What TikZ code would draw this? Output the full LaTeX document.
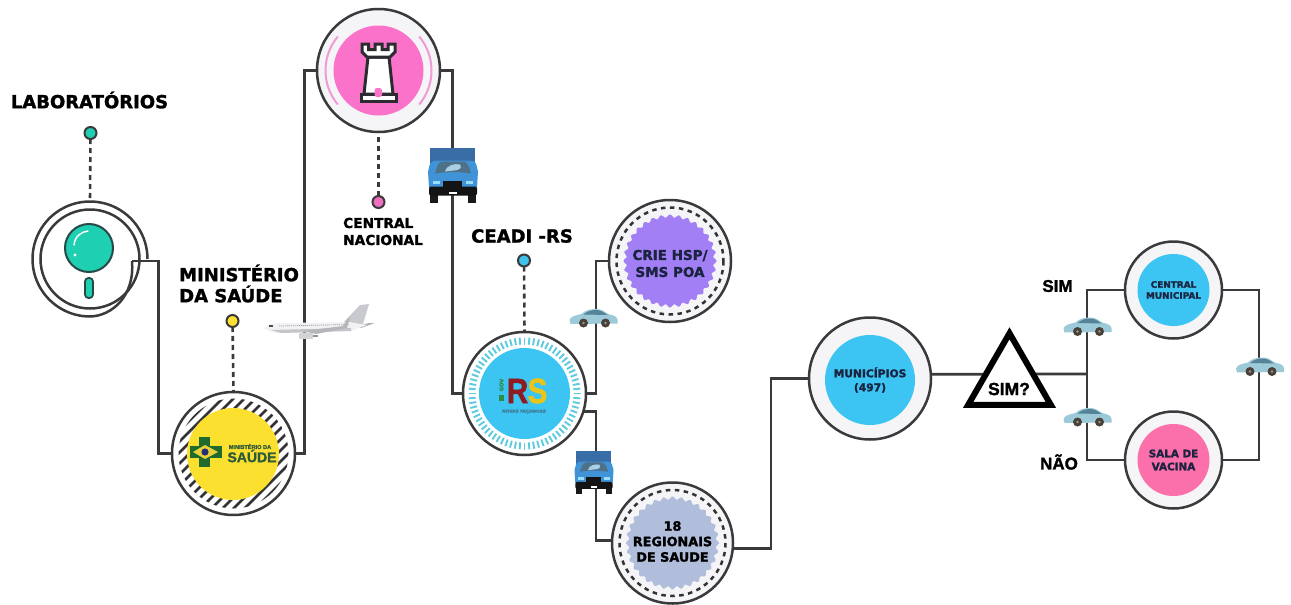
\documentclass[tikz,border=0pt]{standalone}
\usepackage{fontspec}
\setmainfont{DejaVu Sans}[BoldFeatures={FakeBold=1.6}]
\newfontfamily\libfont{Liberation Sans}[BoldFeatures={FakeBold=1.6}]
\usetikzlibrary{shapes.geometric,calc}
\pgfdeclarelayer{bg}
\pgfsetlayers{bg,main}
\newcommand{\defhex}[1]{\definecolor{HTML#1}{HTML}{#1}}
\defhex{558397}\defhex{4A4038}\defhex{8C9A9C}\defhex{396DA6}\defhex{3F93D6}
\defhex{4F7188}\defhex{A9CFE4}\defhex{141414}\defhex{C9CACF}\defhex{B0B2B6}\defhex{F2F2F4}
\defhex{C4C5C9}\defhex{9A9CA0}\defhex{B4B6BA}\defhex{D2D3D6}\defhex{8E9094}\defhex{274A48}
\defhex{333335}\defhex{E9D13A}\defhex{27306E}\defhex{2F5B3B}\defhex{F09AD6}\defhex{2C2C30}
\defhex{EE6FBE}\defhex{3EC2EC}\defhex{5CCADF}\defhex{8F1B22}\defhex{E9C41A}\defhex{2E8B45}
\defhex{3E7E9A}
\definecolor{ringc}{HTML}{3A3A3C}
\definecolor{navyt}{HTML}{1A2340}
\definecolor{tealc}{HTML}{1FCFB2}
\definecolor{pinkc}{HTML}{FB72CB}
\definecolor{cyanc}{HTML}{3CC5F2}
\definecolor{purpc}{HTML}{A27FF5}
\definecolor{bluegr}{HTML}{B0BEDC}
\definecolor{rosec}{HTML}{FB6FAA}
\definecolor{yelc}{HTML}{FBE02F}
\definecolor{ringbg}{HTML}{F5F5F7}
\definecolor{msgreen}{HTML}{1F6B2E}
\definecolor{carc}{HTML}{9CCAD8}
\newcommand{\fsz}[2]{\fontsize{#1}{#2}\selectfont}
\tikzset{
  ringnode/.style={circle,draw=ringc,line width=2.5pt,fill=#1,inner sep=0pt,outer sep=0pt},
  disc/.style={circle,fill=#1,inner sep=0pt,text=navyt,align=center},
  pindot/.style={circle,draw=ringc,line width=2pt,fill=#1,minimum size=12pt,inner sep=0pt,outer sep=0pt},
  conn/.style={draw=ringc,line width=2.8pt,line join=miter},
  thinconn/.style={draw=ringc,line width=2.2pt,line join=miter},
  dashconn/.style={draw=ringc,line width=2.6pt,dash pattern=on 5pt off 4pt},
  biglabel/.style={font=\bfseries\fsz{18}{21},text=black,inner sep=0pt,align=left},
  vehiclelabel/.style={font=\libfont\bfseries\fsz{17}{20},text=black,inner sep=0pt},
  carpic/.pic={
    \fill[carc] (-24,2) .. controls (-23,-2) and (-16,-3) .. (-12,-4)
      .. controls (-8,-8) and (-3,-9) .. (3,-9)
      .. controls (9,-9) and (12,-5) .. (16,-3.5)
      .. controls (20,-3) and (24,-1) .. (24,2)
      -- (24,5.5) -- (-23,6) -- cycle;
    \fill[HTML558397] (-10,-3.5) .. controls (-6,-7) and (-2,-8) .. (3,-8)
      .. controls (7,-8) and (10,-6) .. (14,-3) -- cycle;
    \fill[HTML4A4038] (-10,5) circle (4.5);
    \fill[HTML4A4038] (12,5) circle (4.5);
    \fill[HTML8C9A9C] (-10,5) circle (1.3);
    \fill[HTML8C9A9C] (12,5) circle (1.3);
  },
  truckpic/.pic={
    \fill[HTML396DA6] (-23,-27) rectangle (22,-5);
    \fill[black!90] (-23,18) rectangle (-15,28);
    \fill[black!90] (15,18) rectangle (23,28);
    \fill[HTML3F93D6] (-24,-7) .. controls (-23,-14) and (-18,-14) .. (-16,-14)
       -- (16,-14) .. controls (19,-14) and (23,-14) .. (24,-7) -- (25,-3) -- (24,13) -- (-24,13) -- (-25,-3) -- cycle;
    \fill[HTML4F7188] (-18,-1) .. controls (-15,-13) and (-12,-13) .. (-9,-13) -- (9,-13)
       .. controls (12,-13) and (15,-13) .. (18,-1) .. controls (5,-3) and (-5,-3) .. (-18,-1) -- cycle;
    \fill[HTMLA9CFE4] (-8,-3) .. controls (-6,-10) and (2,-11) .. (7,-10) .. controls (10,-6) and (5,-4) .. (1,-4) -- cycle;
    \fill[white!60!cyan] (-20,6) rectangle (-13,9);
    \fill[white!60!cyan] (13,6) rectangle (20,9);
    \fill[HTML141414] (-10,6) rectangle (9,13);
    \fill[HTML141414,rounded corners=2pt] (-24,12) rectangle (24,21);
    \fill[white] (-4,17) rectangle (4,19.5);
  },
  planepic/.pic={
    \fill[HTMLC9CACF] (22,-2) -- (39,-20) -- (48,-21) -- (42,-1) -- cycle;
    \fill[HTMLB0B2B6] (32,2) -- (48,-2) -- (54,-2) -- (40,3) -- cycle;
    \fill[HTMLF2F2F4] (-57,3) .. controls (-53,-1) and (-46,-2) .. (-40,-2) -- (28,-3) -- (46,0) -- (30,6) -- (-40,8) .. controls (-48,8) and (-54,6) .. (-57,3) -- cycle;
    \fill[HTMLC4C5C9] (-50,5) -- (30,3) -- (30,6) -- (-40,8) -- cycle;
    \draw[HTML9A9CA0,line width=.7pt,dash pattern=on 1.2pt off .8pt] (-42,1) -- (28,-0.5);
    \fill[black!70] (-52,0) rectangle (-48,1.5);
    \fill[HTMLB4B6BA] (-18,6) -- (22,1) -- (27,-7) -- (29,-7) -- (26,3) -- (-5,9) -- cycle;
    \fill[HTMLD2D3D6] (-22,8) rectangle (-8,14);
    \fill[HTML8E9094] (-8,10) rectangle (-3,12);
  }
}
\begin{document}
\begin{tikzpicture}[x=1pt,y=-1pt]
\useasboundingbox (0,0) rectangle (1291,605);
\begin{pgfonlayer}{bg}
\fill[white] (0,0) rectangle (1291,605);
\end{pgfonlayer}

% ---------- Laboratorios
\node[biglabel] (tlab) at (89.5,100) {LABORATÓRIOS};
\node[pindot=tealc] (dlab) at (90.5,133) {};
\node[circle,minimum size=114pt,inner sep=0pt,outer sep=0pt] (lab) at (90,259) {};
\coordinate (labj) at (132,261);
\draw[ringc,line width=2.5pt] plot[domain=0:-270,samples=80] ({90+57.5*cos(\x)},{259+57.5*sin(\x)})
   .. controls (112,316) and (135,296) .. (labj);
\draw[ringc,line width=2.5pt] (90,259) circle (49.5);
\node[circle,draw=HTML274A48,line width=2pt,fill=tealc,minimum size=48pt,inner sep=0pt] (lens) at (89,248) {};
\draw[white,line width=1.4pt,line cap=round] (74,245) .. controls (75,236) and (81,232) .. (88,231);
\fill[white] (75,255) circle (1.6);
\draw[HTML274A48,line width=1.8pt,fill=tealc,rounded corners=3.5pt] (85,278) rectangle (93,298);

% ---------- Ministerio
\node[biglabel,anchor=west] (tms) at (179,283.5) {MINISTÉRIO\\DA SAÚDE};
\node[pindot=yelc] (dms) at (232.5,321) {};
\node[ringnode=white,minimum size=123pt] (ms) at (233.5,453.5) {};
\begin{scope}
 \clip (ms) circle (55);
 \foreach \d in {-132,-121,...,132}
   \draw[HTML333335,line width=2.5pt] ($(ms)+(\d-80,80)$) -- ($(ms)+(\d+80,-80)$);
\end{scope}
\node[disc=yelc,minimum size=92pt] (msd) at (233,454) {};
\fill[msgreen] (199,437) rectangle (210,467);
\fill[msgreen] (190,446) rectangle (222,458);
\fill[HTMLE9D13A] (193,452) -- (205,445) -- (218,452) -- (205,459) -- cycle;
\fill[HTML27306E] (205,452) circle (3.6);
\node[inner sep=0pt,text=HTML2F5B3B,font=\libfont\bfseries\fsz{5.6}{6}] (msl1) at (250,446.5) {MINISTÉRIO DA};
\node[inner sep=0pt,text=HTML2F5B3B,font=\libfont\bfseries\fsz{14}{14}] (msl2) at (252,456) {SAÚDE};

% ---------- Central nacional
\node[ringnode=ringbg,minimum size=123pt] (cn) at (378.5,70.5) {};
\draw[HTMLF09AD6,line width=2pt] plot[domain=140:220,samples=30] ({378.5+53*cos(\x)},{70.5+53*sin(\x)});
\draw[HTMLF09AD6,line width=2pt] plot[domain=-40:40,samples=30] ({378.5+53*cos(\x)},{70.5+53*sin(\x)});
\node[disc=pinkc,minimum size=90pt] (cnd) at (378.5,70.5) {};
\draw[HTML2C2C30,line width=3pt,fill=white,line join=miter]
  (368,57) -- (389,57) -- (393,94) -- (364,94) -- cycle;
\draw[HTML2C2C30,line width=3pt,fill=white,line join=miter]
  (362,44) -- (368.5,44) -- (368.5,49.5) -- (375,49.5) -- (375,44) -- (382,44) -- (382,49.5) -- (388,49.5) -- (388,44) -- (395,44) -- (395,52) -- (390,57) -- (367,57) -- (362,52) -- cycle;
\draw[HTML2C2C30,line width=3pt,fill=white] (361,94) rectangle (396,101.5);
\fill[pinkc,rounded corners=2.5pt] (374.5,88) rectangle (382,97);
\node[pindot=HTMLEE6FBE] (dcn) at (378.5,202) {};
\node[biglabel,anchor=west,font=\bfseries\fsz{13.7}{17}] (tcn) at (343,231.5) {CENTRAL\\NACIONAL};

% ---------- CEADI
\node[biglabel] (trs) at (522,236) {CEADI -RS};
\node[pindot=HTML3EC2EC] (drs) at (524,260.5) {};
\node[ringnode=white,minimum size=123pt] (rs) at (524.5,393.5) {};
\foreach \a in {0,5,...,355}
  \draw[HTML5CCADF,line width=1.9pt] ({524.5+49*cos(\a)},{393.5+49*sin(\a)}) -- ({524.5+56*cos(\a)},{393.5+56*sin(\a)});
\node[disc=cyanc,minimum size=91pt] (rsd) at (524.5,393.5) {};
\node[inner sep=0pt,text=HTML8F1B22,font=\libfont\bfseries\fsz{35}{35},xscale=.85] (rsR) at (517.5,391) {R};
\node[inner sep=0pt,text=HTMLE9C41A,font=\libfont\bfseries\fsz{35}{35},xscale=.85] (rsS) at (537.5,391) {S};
\node[inner sep=0pt,rotate=90,text=HTML2E8B45,font=\bfseries\fsz{5.2}{6}] (rsG) at (501.5,385) {GOV};
\fill[HTML2E8B45] (499,395) rectangle (504,401);
\node[inner sep=0pt,text=HTML3E7E9A,font=\bfseries\fsz{4.3}{5}] (rsN) at (524,411.5) {NOVAS FAÇANHAS};

% ---------- CRIE
\node[ringnode=ringbg,minimum size=122pt] (crie) at (670,261) {};
\draw[HTML333335,line width=2.5pt,dash pattern=on 4.5pt off 4.5pt] (crie) circle (53.5);
\fill[purpc] plot[domain=0:360,samples=400] ({670+(45+1.5*cos(32*\x))*cos(\x)},{261+(45+1.5*cos(32*\x))*sin(\x)}) -- cycle;
\node[inner sep=0pt,align=center,text=navyt,font=\bfseries\fsz{13.5}{17}] (tcrie) at (670,263.5) {CRIE HSP/\\SMS POA};

% ---------- Regionais
\node[ringnode=ringbg,minimum size=121pt] (reg) at (672.5,543) {};
\draw[HTML333335,line width=2.5pt,dash pattern=on 4.5pt off 4.5pt] (reg) circle (53);
\fill[bluegr] plot[domain=0:360,samples=400] ({672.5+(45+1.5*cos(32*\x))*cos(\x)},{543+(45+1.5*cos(32*\x))*sin(\x)}) -- cycle;
\node[inner sep=0pt,align=center,text=black,font=\bfseries\fsz{12.8}{15.5}] (treg) at (672.5,541.5) {18\\REGIONAIS\\DE SAUDE};

% ---------- Municipios
\node[ringnode=ringbg,minimum size=122pt] (mun) at (870,378.5) {};
\node[disc=cyanc,minimum size=90pt,font=\bfseries\fsz{10.7}{14}] (mund) at (870,380) {MUNICÍPIOS\\(497)};

% ---------- Triangle
\node[regular polygon,regular polygon sides=3,draw=black,fill=white,line width=6pt,minimum size=95.4pt,inner sep=0pt,outer sep=0pt,line join=miter] (tri) at (1009.5,381) {};
\node[inner sep=0pt,text=black,font=\libfont\bfseries\fsz{17.5}{18}] (tsim) at (1009,389) {SIM?};

% ---------- End nodes
\node[ringnode=ringbg,minimum size=97pt] (cm) at (1173.5,290) {};
\node[disc=cyanc,minimum size=72pt,font=\bfseries\fsz{8.9}{11}] (cmd) at (1173.5,290) {CENTRAL\\MUNICIPAL};
\node[ringnode=ringbg,minimum size=97pt] (sv) at (1173.5,460) {};
\node[disc=rosec,minimum size=72pt,font=\bfseries\fsz{10.4}{13}] (svd) at (1173.5,460) {SALA DE\\VACINA};
\node[vehiclelabel] (tsimb) at (1057.5,286) {SIM};
\node[vehiclelabel] (tnao) at (1059,462) {NÃO};

% ---------- Junction coordinates
\coordinate (j1) at (158.5,350);
\coordinate (j2) at (304.5,260);
\coordinate (j3) at (452.5,230);
\coordinate (j4) at (596,330);
\coordinate (j5) at (596,470);
\coordinate (j6) at (771,460);
\coordinate (j7) at (1087,374);
\coordinate (j8) at (1259,374);

% ---------- Connectors (behind the nodes)
\begin{pgfonlayer}{bg}
\draw[dashconn] (dlab) -- (lab.north);
\draw[dashconn] (dms) -- (ms.north);
\draw[dashconn] (dcn) -- (cn.south);
\draw[dashconn] (drs) -- (rs.north);
\draw[conn] (labj) -| (j1) |- (ms.west);
\draw[conn] (ms.east) -| (j2) |- (cn.west);
\draw[conn] (cn.east) -| (j3) |- (rs.west);
\draw[conn] (rs.east) -| (j4) |- (crie.west);
\draw[conn] (rs.-17.5) -| (j5) |- (reg.178);
\draw[conn] (reg.-5) -| (j6) |- (mun.west);
\draw[conn] (mun.4) -- (j7);
\draw[thinconn] (cm.west) -| (j7) |- (sv.west);
\draw[thinconn] (cm.east) -| (j8) |- (sv.east);
\end{pgfonlayer}

% ---------- Vehicles
\pic at (321,325) {planepic};
\pic at (453,174.5) {truckpic};
\pic[scale=.78] at (594,472.5) {truckpic};
\pic at (593.5,318) {carpic};
\pic at (1087.5,326.5) {carpic};
\pic at (1087.5,417) {carpic};
\pic at (1260,366.5) {carpic};
\end{tikzpicture}
\end{document}
